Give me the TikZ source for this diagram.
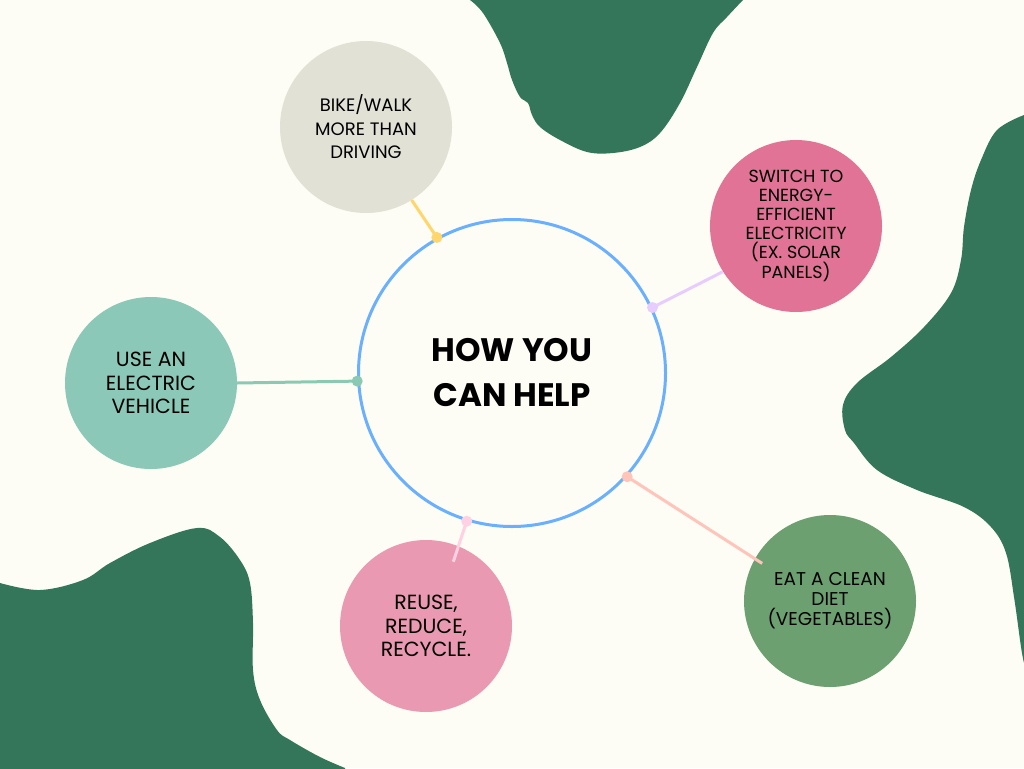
\documentclass[tikz,border=0pt]{standalone}
\usepackage{fontspec}
\setmainfont{Poppins}
\usepackage{tikz}
\usetikzlibrary{calc}
\definecolor{paper}{HTML}{FEFDF5}
\definecolor{forest}{HTML}{33765A}
\definecolor{hubblue}{HTML}{6AB0FF}
\definecolor{bikefill}{HTML}{E2E1D5}
\definecolor{switchfill}{HTML}{E07396}
\definecolor{evfill}{HTML}{8BC8B7}
\definecolor{reusefill}{HTML}{E99AB2}
\definecolor{eatfill}{HTML}{6DA070}
\definecolor{bikeline}{HTML}{FFD66B}
\definecolor{switchline}{HTML}{E6CCFF}
\definecolor{evline}{HTML}{8BC9B5}
\definecolor{reuseline}{HTML}{FFD1E3}
\definecolor{eatline}{HTML}{FFC4BA}
\pgfdeclarelayer{blobs}
\pgfdeclarelayer{nodelayer}
\pgfdeclarelayer{edgelayer}
\pgfsetlayers{blobs,nodelayer,edgelayer,main}
\tikzset{idea/.style={shape=circle, inner sep=0pt, minimum size=172pt, align=center, text=black}}
\tikzset{hub/.style={shape=circle, draw=hubblue, line width=3pt, minimum size=307pt, align=center,
font=\bfseries\fontsize{32.5}{45}\selectfont}}
\tikzset{dot/.style={shape=circle, inner sep=0pt, minimum size=11pt}}
\tikzset{link/.style={line width=3pt}}
\tikzset{blob/.style={fill=forest}}
\tikzstyle{big}=[font=\fontsize{18}{23.5}\selectfont]
\tikzstyle{bigger}=[font=\fontsize{20.5}{23.5}\selectfont]
\tikzstyle{small}=[font=\fontsize{17.5}{19}\selectfont]
\tikzstyle{mid}=[font=\fontsize{18.5}{20}\selectfont]

\begin{document}
\begin{tikzpicture}[x=1pt, y=-1pt]
	\useasboundingbox (0,0) rectangle (1024,768);
	\begin{pgfonlayer}{blobs}
		\fill[paper] (0,0) rectangle (1024,768);
		\begin{scope}
			\clip (0,0) rectangle (1024,768);
			% top blob
			\fill[blob] (468,-5) -- plot[smooth, tension=.6] coordinates {(470,0) (483,13) (500,43) (507,63) (512,80)
				(520,97) (528,103) (532,115) (540,127) (560,140) (587,152) (613,153) (640,147) (660,133)
				(680,103) (697,67) (713,33) (727,17) (743,0)} -- (745,-5) -- cycle;
			% right blob
			\fill[blob] (1030,115) -- plot[smooth, tension=.6] coordinates {(1024,115) (997,130) (981,160) (971,190)
				(964,227) (961,260) (951,293) (924,327) (891,357) (857,383) (843,405) (845,430) (854,443)
				(877,470) (917,490) (964,507) (991,527) (1006,553) (1014,597) (1021,647) (1024,663)} -- (1030,663) -- cycle;
			% bottom left blob
			\fill[blob] (-5,583) -- plot[smooth, tension=.6] coordinates {(0,583) (40,590) (83,580) (110,563) (150,543)
				(197,528) (220,537) (240,560) (250,583) (253,623) (253,670) (260,700) (277,730) (290,740)
				(320,757) (345,768)} -- (345,775) -- (-5,775) -- cycle;
		\end{scope}
	\end{pgfonlayer}
	\begin{pgfonlayer}{nodelayer}
		\node [style=hub] (hub) at (512,373) {HOW YOU\\CAN HELP};
		\node [style=idea, big, fill=bikefill] (bike) at (366,127) {BIKE/WALK\\MORE THAN\\DRIVING};
		\node [style=idea, small, fill=switchfill] (switch) at (796,226) {SWITCH TO\\ENERGY-\\EFFICIENT\\ELECTRICITY\\(EX. SOLAR\\PANELS)};
		\node [style=idea, bigger, fill=evfill] (ev) at (151,383) {USE AN\\ELECTRIC\\VEHICLE};
		\node [style=idea, bigger, fill=reusefill] (reuse) at (426,626) {REUSE,\\REDUCE,\\RECYCLE.};
		\node [style=idea, mid, fill=eatfill] (eat) at (830,601) {EAT A CLEAN\\DIET\\(VEGETABLES)};
	\end{pgfonlayer}
	\node [style=dot, fill=bikeline] (dbike) at (hub.119.5) {};
	\node [style=dot, fill=switchline] (dswitch) at (hub.25) {};
	\node [style=dot, fill=evline] (dev) at (hub.183.7) {};
	\node [style=dot, fill=reuseline] (dreuse) at (hub.253.8) {};
	\node [style=dot, fill=eatline] (deat) at (hub.-42.6) {};
	\begin{pgfonlayer}{edgelayer}
		\draw [style=link, bikeline] (dbike.center) to (bike.-58);
		\draw [style=link, switchline] (dswitch.center) to (switch.212);
		\draw [style=link, evline] (dev.center) to (ev.east);
		\draw [style=link, reuseline] (dreuse.center) to ($(reuse.center)!0.81!(reuse.67)$);
		\draw [style=link, eatline] (deat.center) to ($(eat.center)!0.9!(eat.151)$);
	\end{pgfonlayer}
\end{tikzpicture}
\end{document}
